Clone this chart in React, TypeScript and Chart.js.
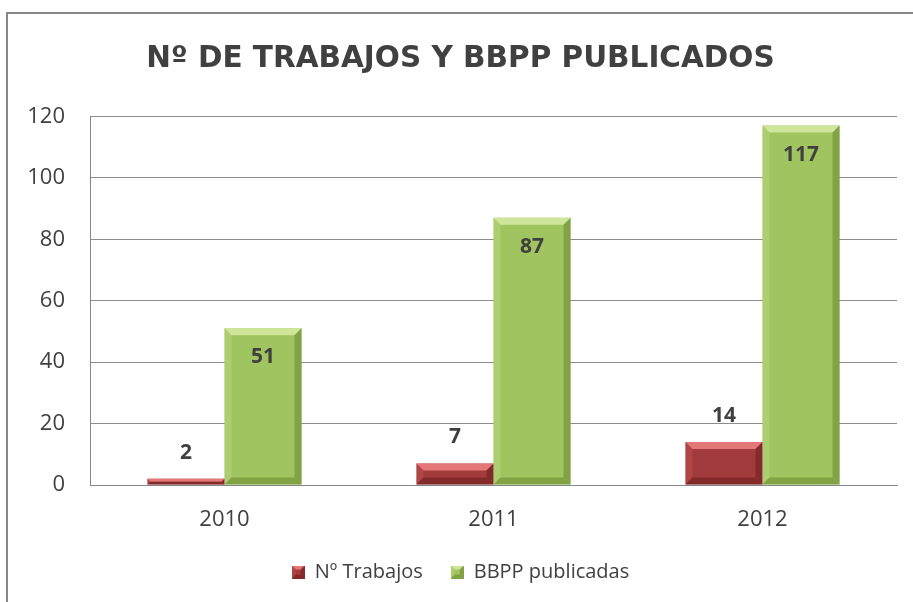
import React, { useEffect, useRef } from "react";
import { Chart, registerables } from "chart.js";

Chart.register(...registerables);

const categories = ["2010", "2011", "2012"];
const trabajos = [2, 7, 14];
const bbpp = [51, 87, 117];
const yTickValues = [0, 20, 40, 60, 80, 100, 120];
const seriesNames = ["Nº Trabajos", "BBPP publicadas"];
const chartTitle = "Nº DE TRABAJOS Y BBPP PUBLICADOS";

const FONT = "'Open Sans', sans-serif";
const TITLE_FONT = "'DejaVu Sans', sans-serif";
const TEXT = "#404040";
const baseColors = ["#A23B3B", "#A0C45F"];

const bevelColors = [
  { light: "rgba(240,130,130,0.85)", left: "rgba(200,90,90,0.35)", dark: "rgba(100,25,25,0.5)" },
  { light: "rgba(215,235,165,0.85)", left: "rgba(185,215,130,0.5)", dark: "rgba(105,135,50,0.55)" },
];

function drawBevel(ctx: CanvasRenderingContext2D, l: number, t: number, r: number, b: number, di: number, maxBv: number) {
  const c = bevelColors[di];
  const h = b - t;
  const bv = Math.min(maxBv, h / 2, (r - l) / 2);
  ctx.fillStyle = c.light;
  ctx.beginPath();
  ctx.moveTo(l, t);
  ctx.lineTo(r, t);
  ctx.lineTo(r - bv, t + bv);
  ctx.lineTo(l + bv, t + bv);
  ctx.closePath();
  ctx.fill();
  ctx.fillStyle = c.left;
  ctx.beginPath();
  ctx.moveTo(l, t);
  ctx.lineTo(l + bv, t + bv);
  ctx.lineTo(l + bv, b - bv);
  ctx.lineTo(l, b);
  ctx.closePath();
  ctx.fill();
  ctx.fillStyle = c.dark;
  ctx.beginPath();
  ctx.moveTo(r, t);
  ctx.lineTo(r - bv, t + bv);
  ctx.lineTo(r - bv, b - bv);
  ctx.lineTo(r, b);
  ctx.closePath();
  ctx.fill();
  ctx.beginPath();
  ctx.moveTo(l, b);
  ctx.lineTo(l + bv, b - bv);
  ctx.lineTo(r - bv, b - bv);
  ctx.lineTo(r, b);
  ctx.closePath();
  ctx.fill();
}

const framePlugin = {
  id: "frame",
  beforeDraw(chart: any) {
    const ctx = chart.ctx;
    ctx.save();
    ctx.fillStyle = "#ffffff";
    ctx.fillRect(0, 0, chart.width, chart.height);
    ctx.strokeStyle = "#878787";
    ctx.lineWidth = 2;
    ctx.strokeRect(7, 13, chart.width + 40, chart.height + 40);
    ctx.restore();
  },
};

const bevelPlugin = {
  id: "bevel",
  afterDatasetsDraw(chart: any) {
    const ctx = chart.ctx;
    ctx.save();
    chart.data.datasets.forEach((_: any, di: number) => {
      const meta = chart.getDatasetMeta(di);
      meta.data.forEach((el: any) => {
        const { x, y, base, width } = el.getProps(["x", "y", "base", "width"], true);
        drawBevel(ctx, x - width / 2, y, x + width / 2, base, di, 7);
      });
    });
    ctx.restore();
  },
};

const valueLabelPlugin = {
  id: "valueLabels",
  afterDatasetsDraw(chart: any) {
    const ctx = chart.ctx;
    ctx.save();
    ctx.font = `bold 21px ${FONT}`;
    ctx.fillStyle = TEXT;
    ctx.textAlign = "center";
    ctx.textBaseline = "middle";
    chart.data.datasets.forEach((ds: any, di: number) => {
      const meta = chart.getDatasetMeta(di);
      meta.data.forEach((el: any, i: number) => {
        const { x, y } = el.getProps(["x", "y"], true);
        const v = ds.data[i];
        const ly = di === 0 ? y - 26 : y + 29;
        ctx.fillText(String(v), x, ly);
      });
    });
    ctx.restore();
  },
};

function makeMarker(di: number) {
  const c = document.createElement("canvas");
  c.width = 13;
  c.height = 13;
  const ctx = c.getContext("2d")!;
  ctx.fillStyle = baseColors[di];
  ctx.fillRect(0, 0, 13, 13);
  drawBevel(ctx, 0, 0, 13, 13, di, 4);
  return c;
}

export default function App() {
  const ref = useRef<HTMLCanvasElement | null>(null);
  useEffect(() => {
    if (!ref.current) return;
    const markers = [makeMarker(0), makeMarker(1)];
    const chart = new Chart(ref.current, {
      type: "bar",
      data: {
        labels: categories,
        datasets: [
          {
            label: seriesNames[0],
            data: trabajos,
            backgroundColor: baseColors[0],
            borderWidth: 0,
            categoryPercentage: 0.573,
            barPercentage: 1,
          },
          {
            label: seriesNames[1],
            data: bbpp,
            backgroundColor: baseColors[1],
            borderWidth: 0,
            categoryPercentage: 0.573,
            barPercentage: 1,
          },
        ],
      },
      options: {
        animation: false,
        responsive: false,
        maintainAspectRatio: false,
        layout: { padding: { left: 24, right: 16, top: 0, bottom: 10 } },
        plugins: {
          title: {
            display: true,
            text: chartTitle,
            color: TEXT,
            font: { family: TITLE_FONT, size: 29.5, weight: "bold" },
            padding: { top: 42, bottom: 39 },
          },
          legend: {
            position: "bottom",
            labels: {
              color: TEXT,
              font: { family: FONT, size: 20 },
              boxWidth: 13,
              boxHeight: 13,
              padding: 28,
              usePointStyle: true,
              pointStyleWidth: 13,
              generateLabels: (ch: any) =>
                Chart.defaults.plugins.legend.labels.generateLabels(ch).map((it: any, i: number) => ({
                  ...it,
                  pointStyle: markers[i],
                })),
            },
          },
          tooltip: { enabled: false },
        },
        scales: {
          x: {
            grid: { display: false, drawTicks: false },
            border: { display: true, color: "#868686", width: 1 },
            ticks: { color: TEXT, font: { family: FONT, size: 22 }, padding: 22 },
            afterFit: (s: any) => {
              s.height = 49;
            },
          },
          y: {
            min: 0,
            max: 120,
            afterBuildTicks: (s: any) => {
              s.ticks = yTickValues.map((v) => ({ value: v }));
            },
            grid: { color: "#8C8C8C", drawTicks: false, lineWidth: 1 },
            border: { display: true, color: "#868686", width: 1 },
            ticks: { color: TEXT, font: { family: FONT, size: 22 }, padding: 25 },
            afterFit: (s: any) => {
              s.width = 66;
            },
          },
        },
      },
      plugins: [framePlugin, bevelPlugin, valueLabelPlugin],
    });
    return () => chart.destroy();
  }, []);
  return (
    <div style={{ position: "fixed", left: 0, top: 0, width: 913, height: 602 }}>
      <canvas ref={ref} width={913} height={602} />
    </div>
  );
}
